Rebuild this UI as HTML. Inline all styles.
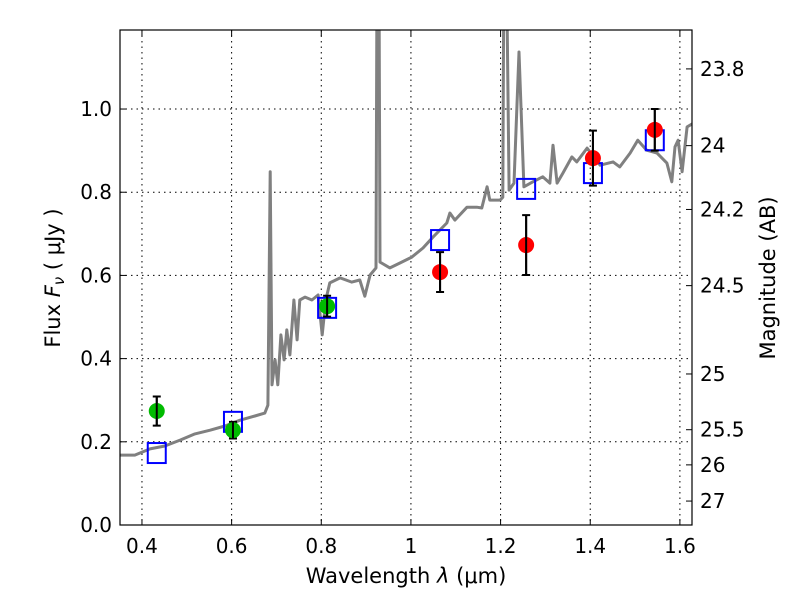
<!DOCTYPE html>
<html><head><meta charset="utf-8"><style>
body{margin:0;background:#fff}
svg text{font-family:"DejaVu Sans","Liberation Sans",sans-serif;fill:#000}
</style></head><body>
<svg id="chart" width="800" height="600" xmlns="http://www.w3.org/2000/svg">
<rect width="800" height="600" fill="#fff"/>
<defs><clipPath id="clip"><rect x="120" y="30" width="572" height="495"/></clipPath></defs>
<g id="grid"></g>
<g id="plot" clip-path="url(#clip)"></g>
<rect x="120" y="30" width="572" height="495" fill="none" stroke="#000" stroke-width="1.2"/>
<g id="axes"></g>
<text x="406" y="583" font-size="21" text-anchor="middle">Wavelength  <tspan font-style="italic">λ</tspan> (μm)</text>
<text transform="translate(60,278) rotate(-90)" font-size="21" text-anchor="middle">Flux  <tspan font-style="italic">F</tspan><tspan font-style="italic" font-size="15" dy="4">ν</tspan><tspan dy="-4">  ( μJy )</tspan></text>
<text transform="translate(775,278) rotate(-90)" font-size="21" text-anchor="middle">Magnitude (AB)</text>
</svg>
<script>
const specWl=[0.351,0.384,0.418,0.451,0.485,0.518,0.552,0.585,0.619,0.652,0.674,0.681,0.686,0.690,0.697,0.703,0.710,0.717,0.723,0.730,0.739,0.746,0.752,0.764,0.779,0.793,0.802,0.810,0.819,0.842,0.868,0.886,0.897,0.909,0.922,0.924,0.929,0.931,0.953,0.976,1.002,1.027,1.049,1.080,1.087,1.098,1.125,1.147,1.158,1.170,1.176,1.199,1.205,1.207,1.214,1.219,1.230,1.241,1.252,1.272,1.294,1.310,1.317,1.326,1.339,1.359,1.370,1.393,1.422,1.451,1.466,1.489,1.506,1.526,1.549,1.571,1.582,1.589,1.596,1.605,1.616,1.630];
const specFlux=[0.168,0.168,0.183,0.190,0.204,0.219,0.228,0.238,0.252,0.262,0.269,0.288,0.849,0.337,0.397,0.337,0.457,0.397,0.469,0.409,0.541,0.445,0.541,0.548,0.541,0.553,0.457,0.541,0.582,0.594,0.584,0.589,0.550,0.601,0.618,1.262,1.262,0.632,0.618,0.630,0.644,0.666,0.692,0.726,0.750,0.733,0.764,0.764,0.762,0.813,0.781,0.781,0.788,1.262,1.262,0.805,0.822,1.137,0.813,0.825,0.837,0.822,0.913,0.822,0.846,0.885,0.873,0.906,0.865,0.873,0.861,0.894,0.925,0.901,0.894,0.870,0.825,0.909,0.925,0.849,0.957,0.966];
const modelWl=[0.433,0.603,0.813,1.065,1.257,1.406,1.544];
const modelFlux=[0.173,0.248,0.522,0.685,0.808,0.846,0.925];
const greenWl=[0.433,0.603,0.813];
const greenFlux=[0.274,0.228,0.526];
const greenErr=[0.035,0.02,0.025];
const redWl=[1.065,1.257,1.406,1.544];
const redFlux=[0.608,0.673,0.882,0.95];
const redErr=[0.048,0.072,0.066,0.05];
const xTicks=[0.4,0.6,0.8,1.0,1.2,1.4,1.6];
const xTickLabels=["0.4","0.6","0.8","1","1.2","1.4","1.6"];
const yTicks=[0,0.2,0.4,0.6,0.8,1.0];
const yTickLabels=["0.0","0.2","0.4","0.6","0.8","1.0"];
const magTicks=[23.8,24,24.2,24.5,25,25.5,26,27];
const magLabels=["23.8","24","24.2","24.5","25","25.5","26","27"];

const NS="http://www.w3.org/2000/svg";
const X0=120,X1=692,Y0=525,Y1=30,xmin=0.351,xmax=1.627,ymin=0,ymax=1.19;
const sx=v=>X0+(v-xmin)/(xmax-xmin)*(X1-X0);
const sy=v=>Y0-(v-ymin)/(ymax-ymin)*(Y0-Y1);
const magToFlux=m=>Math.pow(10,(23.9-m)/2.5);
function mk(tag,attrs,parent){const e=document.createElementNS(NS,tag);for(const k in attrs)e.setAttribute(k,attrs[k]);parent.appendChild(e);return e;}
const grid=document.getElementById('grid'),plot=document.getElementById('plot'),axes=document.getElementById('axes');

xTicks.forEach((t,i)=>{const x=sx(t);
 let g=mk('line',{x1:x,x2:x,y1:Y1,y2:Y0,stroke:'#000','stroke-dasharray':'1.5,4','stroke-width':1},grid);
 
 
 let a=mk('line',{x1:x,x2:x,y1:Y0,y2:Y0-6,stroke:'#000'},axes);
 
 
 let b=mk('line',{x1:x,x2:x,y1:Y1,y2:Y1+6,stroke:'#000'},axes);
 
 
 let t2=mk('text',{x:x,y:Y0+28,'font-size':20,'text-anchor':'middle'},axes);t2.textContent=xTickLabels[i];
 
 
});
yTicks.forEach((t,i)=>{const y=sy(t);
 let g=mk('line',{x1:X0,x2:X1,y1:y,y2:y,stroke:'#000','stroke-dasharray':'1.5,4','stroke-width':1},grid);
 
 
 let a=mk('line',{x1:X0,x2:X0+6,y1:y,y2:y,stroke:'#000'},axes);
 
 
 let t2=mk('text',{x:X0-8,y:y+7,'font-size':20,'text-anchor':'end'},axes);t2.textContent=yTickLabels[i];
 
 
});
magTicks.forEach((m,i)=>{const y=sy(magToFlux(m));
 let a=mk('line',{x1:X1,x2:X1-6,y1:y,y2:y,stroke:'#000'},axes);
 
 
 let t2=mk('text',{x:X1+8,y:y+7,'font-size':20,'text-anchor':'start'},axes);t2.textContent=magLabels[i];
 
 
});
let d=specWl.map((w,i)=>(i?'L':'M')+sx(w).toFixed(1)+','+sy(specFlux[i]).toFixed(1)).join('');
let sp=mk('path',{d:d,fill:'none',stroke:'#808080','stroke-width':3,'stroke-linejoin':'round'},plot);


modelWl.forEach((w,i)=>{let r=mk('rect',{x:sx(w)-9,y:sy(modelFlux[i])-10,width:18,height:20,fill:'none',stroke:'#0000ff','stroke-width':2},plot);
 
 });
function pts(wl,fl,er,col,name){wl.forEach((w,i)=>{const x=sx(w);
 let e=mk('path',{d:`M${x},${sy(fl[i]-er[i])}V${sy(fl[i]+er[i])}M${x-4},${sy(fl[i]-er[i])}h8M${x-4},${sy(fl[i]+er[i])}h8`,stroke:'#000','stroke-width':2,fill:'none'},plot);
 
 
 let c=mk('circle',{cx:x,cy:sy(fl[i]),r:8,fill:col},plot);
 
 
 mk('path',{d:`M${x},${sy(fl[i]-er[i])}V${sy(fl[i]+er[i])}`,stroke:'#000','stroke-width':2},plot);
});}
pts(greenWl,greenFlux,greenErr,'#00bb00','optical');
pts(redWl,redFlux,redErr,'#ff0000','nir');
</script>
</body></html>
